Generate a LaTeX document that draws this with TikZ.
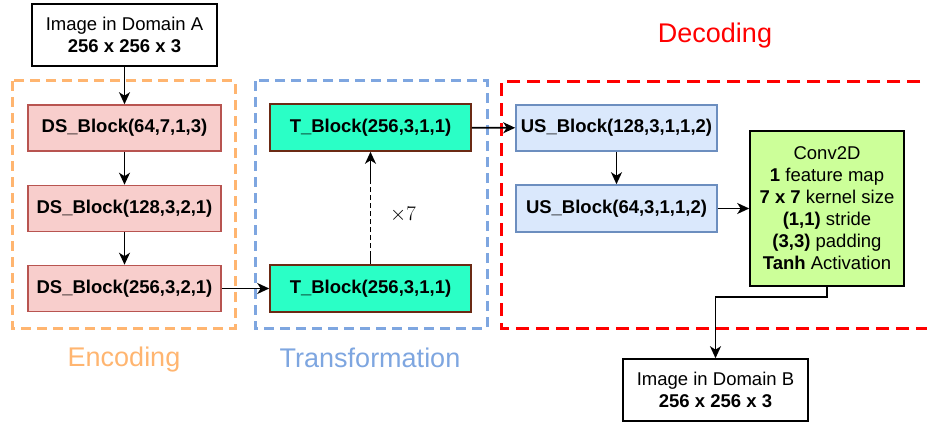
\documentclass[tikz,border=0pt]{standalone}
\usepackage{fontspec}
\setmainfont{Liberation Sans}
\usetikzlibrary{arrows.meta}
\definecolor{dsfill}{HTML}{F8CECC}
\definecolor{dsdraw}{HTML}{B85450}
\definecolor{tfill}{HTML}{2AFFC6}
\definecolor{tdraw}{HTML}{6B2A14}
\definecolor{usfill}{HTML}{DAE8FC}
\definecolor{usdraw}{HTML}{6C8EBF}
\definecolor{convfill}{HTML}{CCFF99}
\definecolor{encc}{HTML}{FFB570}
\definecolor{trc}{HTML}{7EA6E0}
\definecolor{decc}{HTML}{FF0000}
\tikzset{
  blk/.style={draw, line width=1.6pt, inner sep=0pt, minimum width=193pt, minimum height=46pt, align=center, font=\fontsize{18.5}{22}\selectfont\bfseries},
  dsbox/.style={blk, fill=dsfill, draw=dsdraw},
  tbox/.style={blk, fill=tfill, draw=tdraw, minimum width=201pt, minimum height=47pt},
  usbox/.style={blk, fill=usfill, draw=usdraw, minimum width=201pt},
  imgbox/.style={draw=black, line width=1.6pt, fill=white, inner sep=0pt, minimum width=185pt, minimum height=62pt, align=center, font=\fontsize{18.5}{22}\selectfont},
  grp/.style={line width=3pt, dash pattern=on 10pt off 6pt},
  grplabel/.style={font=\fontsize{27}{32}\selectfont},
  arr/.style={line width=1.6pt, -{Stealth[length=12pt,width=11pt,inset=3.5pt]}}
}
\begin{document}
\begin{tikzpicture}[x=1pt,y=-1pt]
\useasboundingbox (0,0) rectangle (927,428);
% group frames
\draw[grp, draw=encc] (12,81) rectangle (235,328);
\draw[grp, draw=trc] (255,81) rectangle (487,328);
\draw[grp, draw=decc, dash pattern=on 13pt off 7pt] (940,82) -- (501,82) -- (501,328) -- (940,328);
% labels
\node[grplabel, text=encc] (lenc) at (124,360) {Encoding};
\node[grplabel, text=trc] (ltr) at (370,358) {Transformation};
\node[grplabel, text=decc] (ldec) at (715,36) {Decoding};
% nodes
\node[imgbox] (imgA) at (124.5,35) {Image in Domain A\\\textbf{256 x 256 x 3}};
\node[dsbox] (ds1) at (124.5,128) {DS\_Block(64,7,1,3)};
\node[dsbox] (ds2) at (124.5,208.5) {DS\_Block(128,3,2,1)};
\node[dsbox] (ds3) at (124.5,288.5) {DS\_Block(256,3,2,1)};
\node[tbox] (t1) at (370.5,127.5) {T\_Block(256,3,1,1)};
\node[tbox] (t2) at (370.5,288.5) {T\_Block(256,3,1,1)};
\node[font=\fontsize{22}{26}\selectfont] (x7) at (403,215) {$\times 7$};
\node[usbox] (us1) at (616.5,128) {US\_Block(128,3,1,1,2)};
\node[usbox, minimum height=47pt] (us2) at (616.5,208.5) {US\_Block(64,3,1,1,2)};
\node[draw=black, line width=1.6pt, fill=convfill, minimum width=154pt, minimum height=155pt, inner sep=0pt, align=center, font=\fontsize{18.5}{22}\selectfont] (conv) at (827,208.5)
  {Conv2D\\\textbf{1} feature map\\\textbf{7 x 7} kernel size\\\textbf{(1,1)} stride\\\textbf{(3,3)} padding\\\textbf{Tanh} Activation};
\node[imgbox] (imgB) at (715.5,390) {Image in Domain B\\\textbf{256 x 256 x 3}};
\coordinate (bend) at (827,297);
% connectors
\draw[arr] (imgA) -- (ds1);
\draw[arr] (ds1) -- (ds2);
\draw[arr] (ds2) -- (ds3);
\draw[arr] (ds3) -- (t2);
\draw[arr, dash pattern=on 13pt off 3pt on 5pt off 3pt on 5pt off 3pt on 5pt off 3pt on 5pt off 3pt on 5pt off 3pt on 5pt off 3pt on 5pt off 3pt on 5pt off 3pt on 60pt] (t2) -- (t1);
\draw[arr] (t1) -- (us1);
\draw[arr] (us1) -- (us2);
\draw[arr] (us2) -- (conv);
\draw[arr] (conv.south) -- (bend) -| (imgB.north);
\end{tikzpicture}
\end{document}
